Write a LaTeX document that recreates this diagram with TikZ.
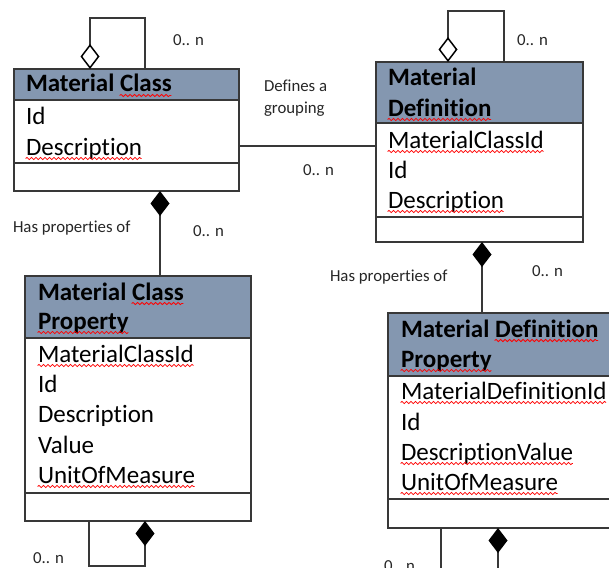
\documentclass[tikz,border=0pt]{standalone}
\usepackage{fontspec}
\setmainfont{Carlito}[Ligatures=NoCommon]
\usetikzlibrary{arrows.meta,calc,decorations.pathmorphing}
\definecolor{hdrblue}{HTML}{8497B0}
\definecolor{edgegray}{HTML}{383838}
\newsavebox\sqbox
\newcommand\sqr[1]{\sbox\sqbox{#1}\usebox\sqbox\llap{\tikz[baseline=0pt]{\draw[red, line width=0.8pt, decorate, decoration={snake, amplitude=1.1pt, segment length=4.5pt}] (0pt,-3.5pt) -- (\wd\sqbox,-3.5pt);}}}
\begin{document}
\begin{tikzpicture}[x=1pt,y=-1pt,
  hdrbox/.style={draw=edgegray, line width=1.3pt, fill=hdrblue, anchor=north west, inner sep=0pt, outer sep=0pt},
  plainbox/.style={draw=edgegray, line width=1.3pt, fill=white, anchor=north west, inner sep=0pt, outer sep=0pt},
  hdrtxt/.style={anchor=base west, inner sep=0pt, outer sep=0pt, font=\fontsize{25}{30}\selectfont\bfseries},
  attrtxt/.style={anchor=base west, inner sep=0pt, outer sep=0pt, font=\fontsize{25}{30}\selectfont},
  lbltxt/.style={anchor=base west, inner sep=0pt, outer sep=0pt, font=\fontsize{16.8}{20}\selectfont, text=black!85},
  conn/.style={draw=edgegray, line width=1.3pt},
  openagg/.style={conn, {Diamond[open, length=25pt, width=19pt, line width=1.5pt, color=black]}-},
  fullagg/.style={conn, {Diamond[length=25pt, width=19pt, color=black]}-},
  fullaggend/.style={conn, -{Diamond[length=25pt, width=19pt, color=black]}}
]
\useasboundingbox (0,0) rectangle (609,567);
\clip (0,0) rectangle (609,567);

% Material Class
\node[hdrbox, minimum width=225pt, minimum height=31pt] (mch) at (14,69) {};
\node[plainbox, minimum width=225pt, minimum height=63pt] (mca) at (14,100) {};
\node[plainbox, minimum width=225pt, minimum height=28pt] (mco) at (14,163) {};
\node[hdrtxt] (mct1) at (26,92) {Material \sqr{Class}};
\node[attrtxt] (mct2) at (26,124) {Id};
\node[attrtxt] (mct3) at (26,155) {\sqr{Description}};

% Material Definition
\node[hdrbox, minimum width=207pt, minimum height=61pt] (mdh) at (376,62) {};
\node[plainbox, minimum width=207pt, minimum height=94pt] (mda) at (376,123) {};
\node[plainbox, minimum width=207pt, minimum height=25pt] (mdo) at (376,217) {};
\node[hdrtxt] (mdt1) at (388,86) {Material};
\node[hdrtxt] (mdt2) at (388,116) {\sqr{Definition}};
\node[attrtxt] (mdt3) at (388,148) {\sqr{MaterialClassId}};
\node[attrtxt] (mdt4) at (388,178) {Id};
\node[attrtxt] (mdt5) at (388,208) {\sqr{Description}};

% Material Class Property
\node[hdrbox, minimum width=226pt, minimum height=62pt] (mph) at (25,276) {};
\node[plainbox, minimum width=226pt, minimum height=155pt] (mpa) at (25,338) {};
\node[plainbox, minimum width=226pt, minimum height=28pt] (mpo) at (25,493) {};
\node[hdrtxt] (mpt1) at (38,300) {Material \sqr{Class}};
\node[hdrtxt] (mpt2) at (38,329) {\sqr{Property}};
\node[attrtxt] (mpt3) at (38,362) {\sqr{MaterialClassId}};
\node[attrtxt] (mpt4) at (38,392) {Id};
\node[attrtxt] (mpt5) at (38,422) {Description};
\node[attrtxt] (mpt6) at (38,453) {Value};
\node[attrtxt] (mpt7) at (38,483) {\sqr{UnitOfMeasure}};

% Material Definition Property
\node[hdrbox, minimum width=232pt, minimum height=63pt] (mqh) at (388,313) {};
\node[plainbox, minimum width=232pt, minimum height=123pt] (mqa) at (388,376) {};
\node[plainbox, minimum width=232pt, minimum height=29pt] (mqo) at (388,499) {};
\node[hdrtxt] (mqt1) at (401,337) {Material \sqr{Definition}};
\node[hdrtxt] (mqt2) at (401,367) {\sqr{Property}};
\node[attrtxt] (mqt3) at (401,399) {\sqr{MaterialDefinitionId}};
\node[attrtxt] (mqt4) at (401,430) {Id};
\node[attrtxt] (mqt5) at (401,460) {\sqr{DescriptionValue}};
\node[attrtxt] (mqt6) at (401,490) {\sqr{UnitOfMeasure}};

% connectors
\draw[openagg] ($(mch.north west)+(76,0)$) -- ++(0,-51) -| ($(mch.north west)+(131,0)$);
\draw[openagg] ($(mdh.north west)+(72,0)$) -- ++(0,-51) -| ($(mdh.north west)+(128,0)$);
\draw[conn] ($(mca.south east)+(0,-17)$) -- ($(mda.north west)+(0,23)$);
\draw[fullagg] ($(mco.south west)+(146,0)$) -- ($(mph.north west)+(135,0)$);
\draw[fullagg] ($(mdo.south west)+(106,0)$) -- ($(mqh.north west)+(94,0)$);
\draw[fullaggend] ($(mpo.south west)+(64,0)$) -- ++(0,45) -| ($(mpo.south west)+(120,0)$);
\draw[fullaggend] ($(mqo.south west)+(53,0)$) -- ++(0,70) -| ($(mqo.south west)+(110,0)$);

% labels
\node[lbltxt] (l1) at (173,46) {0.. n};
\node[lbltxt] (l2) at (517,46) {0.. n};
\node[lbltxt] (l3) at (264,92) {Defines a};
\node[lbltxt] (l4) at (264,113) {grouping};
\node[lbltxt] (l5) at (303,175) {0.. n};
\node[lbltxt] (l6) at (13,232) {Has properties of};
\node[lbltxt] (l7) at (193,236) {0.. n};
\node[lbltxt] (l8) at (330,281) {Has properties of};
\node[lbltxt] (l9) at (532,276) {0.. n};
\node[lbltxt] (l10) at (33,563) {0.. n};
\node[lbltxt] (l11) at (384,571) {0.. n};
\end{tikzpicture}
\end{document}
